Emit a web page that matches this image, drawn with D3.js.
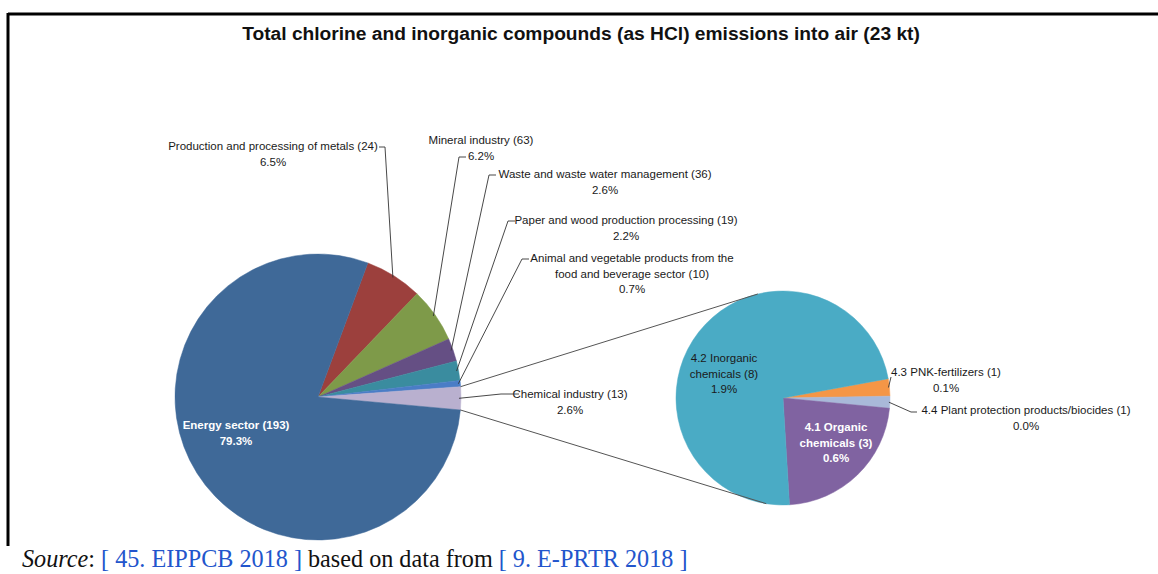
<!DOCTYPE html>
<html lang="en">
<head>
  <meta charset="UTF-8">
  <title>Total chlorine and inorganic compounds emissions into air</title>
  <script src="https://d3js.org/d3.v7.min.js"></script>
  <style>
    body {
      margin: 0;
      padding: 0;
      background: #fff;
    }
    svg {
      display: block;
    }
    .lbl {
      font-family: "Liberation Sans", Arial, sans-serif;
      font-size: 11.5px;
      fill: #1a1a1a;
    }
  </style>
</head>
<body>
  <svg width="1158" height="574"></svg>

  <script>
    // main pie, clockwise from the metals slice
    const sectors = ["Production and processing of metals", "Mineral industry", "Waste and waste water management",
      "Paper and wood production processing", "Animal and vegetable products from the food and beverage sector",
      "Chemical industry", "Energy sector"];
    const facilities = [24, 63, 36, 19, 10, 13, 193];
    const shares = [6.5, 6.2, 2.6, 2.2, 0.7, 2.6, 79.3];

    // breakdown of the chemical industry slice
    const chemSubs = ["4.3 PNK-fertilizers", "4.4 Plant protection products/biocides", "4.1 Organic chemicals", "4.2 Inorganic chemicals"];
    const chemCounts = [1, 1, 3, 8];
    const chemShares = [0.068, 0.047, 0.585, 1.9];

    const colors1 = ["#9c403d", "#7e9a49", "#654f84", "#3a8c9f", "#4a7dc6", "#b9b0cf", "#3f6998"];
    const colors2 = ["#f59646", "#a9b9d9", "#8063a1", "#4aabc5"];

    const svg = d3.select("svg");
    const deg = Math.PI / 180;

    // frame
    svg.append("line").attr("x1", 8).attr("y1", 14).attr("x2", 1158).attr("y2", 14)
      .attr("stroke", "#000").attr("stroke-width", 3);
    svg.append("line").attr("x1", 8).attr("y1", 13).attr("x2", 8).attr("y2", 546)
      .attr("stroke", "#000").attr("stroke-width", 3);

    svg.append("text")
      .attr("x", 581).attr("y", 40)
      .attr("text-anchor", "middle")
      .style("font-family", "'Liberation Sans', Arial, sans-serif")
      .style("font-size", "19.2px")
      .style("font-weight", "bold")
      .style("fill", "#111")
      .text("Total chlorine and inorganic compounds (as HCl) emissions into air (23 kt)");

    // ---- main pie ----
    const c1 = { x: 318, y: 397, r: 143 };
    const pie1 = d3.pie().sort(null).value(d => d)
      .startAngle(20.4 * deg).endAngle(20.4 * deg + 2 * Math.PI);
    const arcs1 = pie1(shares);
    const arc1 = d3.arc().innerRadius(0).outerRadius(c1.r);

    const g1 = svg.append("g").attr("transform", `translate(${c1.x},${c1.y})`);
    g1.selectAll("path").data(arcs1).enter().append("path")
      .attr("d", arc1)
      .attr("fill", (d, i) => colors1[i])
      .attr("stroke", (d, i) => colors1[i])
      .attr("stroke-width", 0.5);

    // ---- second pie ----
    const c2 = { x: 783, y: 398, r: 107 };
    const pie2 = d3.pie().sort(null).value(d => d)
      .startAngle(79.6 * deg).endAngle(79.6 * deg + 2 * Math.PI);
    const arcs2 = pie2(chemShares);
    const arc2 = d3.arc().innerRadius(0).outerRadius(c2.r);

    const g2 = svg.append("g").attr("transform", `translate(${c2.x},${c2.y})`);
    g2.selectAll("path").data(arcs2).enter().append("path")
      .attr("d", arc2)
      .attr("fill", (d, i) => colors2[i])
      .attr("stroke", (d, i) => colors2[i])
      .attr("stroke-width", 0.5);

    const pt = (c, a, r) => {
      const p = d3.pointRadial(a, r == null ? c.r : r);
      return [c.x + p[0], c.y + p[1]];
    };

    // connector lines between the two pies
    const chem = arcs1[5];
    const conn = [
      [pt(c1, chem.startAngle), pt(c2, -13.6 * deg)],
      [pt(c1, chem.endAngle), pt(c2, 189 * deg)]
    ];
    svg.selectAll(".conn").data(conn).enter().append("line")
      .attr("class", "conn")
      .attr("x1", d => d[0][0]).attr("y1", d => d[0][1])
      .attr("x2", d => d[1][0]).attr("y2", d => d[1][1])
      .attr("stroke", "#555").attr("stroke-width", 1);

    // ---- labels ----
    const fmt = v => v.toFixed(1) + "%";
    const line = d3.line();

    // label layout for main pie: centre x, first baseline, wrap index, elbow points
    const layout1 = [
      { x: 273, y: 150, elbow: [[379, 147], [385, 147]] },
      { x: 481, y: 144, elbow: [[466, 157], [459, 157]] },
      { x: 605, y: 178, elbow: [[496, 175], [489, 175]] },
      { x: 626, y: 224, elbow: [[515, 221], [508, 221]] },
      { x: 632, y: 262, wrap: 6, elbow: [[529, 259], [522, 259]] },
      { x: 570, y: 398, elbow: [[519, 394], [501, 394]] },
      { x: 236, y: 429, inside: true }
    ];

    arcs1.forEach((a, i) => {
      const L = layout1[i];
      const words = sectors[i].split(" ");
      let lines;
      if (L.wrap) {
        lines = [words.slice(0, L.wrap).join(" "), words.slice(L.wrap).join(" ") + ` (${facilities[i]})`];
      } else {
        lines = [sectors[i] + ` (${facilities[i]})`];
      }
      lines.push(fmt(shares[i]));

      const t = svg.append("text").attr("class", "lbl")
        .attr("text-anchor", "middle");
      if (L.inside) {
        t.style("fill", "#fff").style("font-weight", "bold");
      }
      t.selectAll("tspan").data(lines).enter().append("tspan")
        .attr("x", L.x)
        .attr("y", (d, k) => L.y + k * 15.5)
        .text(d => d);

      if (L.elbow) {
        const mid = (a.startAngle + a.endAngle) / 2;
        const pts = L.elbow.concat([pt(c1, mid, c1.r - 2)]);
        svg.append("path").attr("d", line(pts))
          .attr("fill", "none").attr("stroke", "#333").attr("stroke-width", 0.9);
      }
    });

    const layout2 = [
      { x: 946, y: 376, elbow: [[891, 377]] },
      { x: 1026, y: 414, elbow: [[917, 412], [911, 412]] },
      { x: 836, y: 431, inside: true, wrap: 1 },
      { x: 724, y: 362, wrap: 1 }
    ];

    arcs2.forEach((a, i) => {
      const L = layout2[i];
      const words = chemSubs[i].split(" ");
      let lines;
      if (L.wrap) {
        lines = [words.slice(0, L.wrap + 1).join(" "), words.slice(L.wrap + 1).join(" ") + ` (${chemCounts[i]})`];
      } else {
        lines = [chemSubs[i] + ` (${chemCounts[i]})`];
      }
      lines.push(fmt(chemShares[i]));

      const t = svg.append("text").attr("class", "lbl")
        .attr("text-anchor", "middle");
      if (L.inside) {
        t.style("fill", "#fff").style("font-weight", "bold");
      }
      t.selectAll("tspan").data(lines).enter().append("tspan")
        .attr("x", L.x)
        .attr("y", (d, k) => L.y + k * 15.5)
        .text(d => d);

      if (L.elbow) {
        const mid = (a.startAngle + a.endAngle) / 2;
        const pts = L.elbow.concat([pt(c2, mid, c2.r - 1)]);
        svg.append("path").attr("d", line(pts))
          .attr("fill", "none").attr("stroke", "#333").attr("stroke-width", 0.9);
      }
    });

    // source line
    const src = svg.append("text")
      .attr("x", 22).attr("y", 567)
      .style("font-family", "'Liberation Serif', 'Times New Roman', serif")
      .style("font-size", "24.2px")
      .style("fill", "#111");
    src.append("tspan").style("font-style", "italic").text("Source");
    src.append("tspan").text(": ");
    src.append("tspan").style("fill", "#2255cc").text("[ 45. EIPPCB 2018 ]");
    src.append("tspan").text(" based on data from ");
    src.append("tspan").style("fill", "#2255cc").text("[ 9. E-PRTR 2018 ]");
  </script>
</body>
</html>
